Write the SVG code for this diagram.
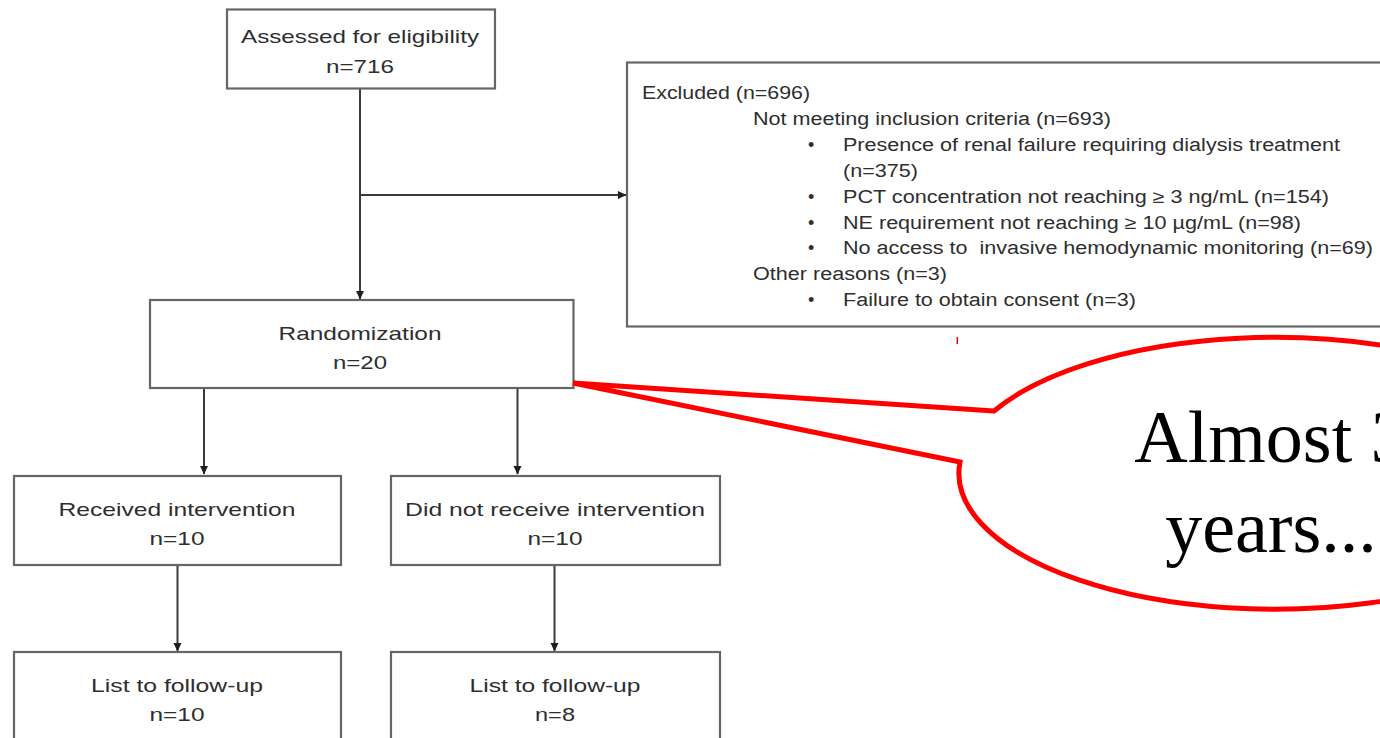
<svg xmlns="http://www.w3.org/2000/svg" width="1380" height="738" viewBox="0 0 1380 738">
<style>
.box{fill:#ffffff;stroke:#666666;stroke-width:2.2}
.t{font-family:"Liberation Sans",Arial,sans-serif;font-size:19px;fill:#2e2e2e}
.tc{text-anchor:middle}
.ex{font-family:"Liberation Sans",Arial,sans-serif;font-size:18px;fill:#2e2e2e}
.conn{stroke:#3a3a3a;stroke-width:2;fill:none}
.callout{fill:#ffffff;stroke:#ff0000;stroke-width:5;stroke-linejoin:miter}
.big{font-family:"Liberation Serif","Times New Roman",serif;font-size:74px;fill:#000000;text-anchor:middle}
</style>
<defs>
<marker id="arr" markerUnits="userSpaceOnUse" markerWidth="9" markerHeight="9" refX="8" refY="4.5" orient="auto">
<path d="M0,0.5 L8.5,4.5 L0,8.5 z" fill="#1e1e1e"/>
</marker>
</defs>
<rect x="0" y="0" width="1380" height="738" fill="#ffffff"/>

<g id="connectors">
<line class="conn" x1="360" y1="89" x2="360" y2="299" marker-end="url(#arr)"/>
<line class="conn" x1="360" y1="195" x2="626" y2="195" marker-end="url(#arr)"/>
<line class="conn" x1="204" y1="388" x2="204" y2="474" marker-end="url(#arr)"/>
<line class="conn" x1="517.5" y1="388" x2="517.5" y2="474" marker-end="url(#arr)"/>
<line class="conn" x1="177.5" y1="565" x2="177.5" y2="651" marker-end="url(#arr)"/>
<line class="conn" x1="554.5" y1="565" x2="554.5" y2="651" marker-end="url(#arr)"/>
</g>

<g id="assessed">
<rect class="box" x="227" y="9.5" width="268" height="79"/>
<text class="t tc" x="360" y="43" textLength="238" lengthAdjust="spacingAndGlyphs">Assessed for eligibility</text>
<text class="t tc" x="360" y="72.5" textLength="68" lengthAdjust="spacingAndGlyphs">n=716</text>
</g>

<g id="excluded">
<rect class="box" x="627" y="62.5" width="770" height="264"/>
<text class="ex" x="642" y="99" textLength="168" lengthAdjust="spacingAndGlyphs">Excluded (n=696)</text>
<text class="ex" x="753" y="125" textLength="358" lengthAdjust="spacingAndGlyphs">Not meeting inclusion criteria (n=693)</text>
<text class="ex" x="808" y="151">•</text>
<text class="ex" x="843" y="151" textLength="497" lengthAdjust="spacingAndGlyphs">Presence of renal failure requiring dialysis treatment</text>
<text class="ex" x="843" y="177" textLength="75" lengthAdjust="spacingAndGlyphs">(n=375)</text>
<text class="ex" x="808" y="202.5">•</text>
<text class="ex" x="843" y="202.5" textLength="486" lengthAdjust="spacingAndGlyphs">PCT concentration not reaching ≥ 3 ng/mL (n=154)</text>
<text class="ex" x="808" y="228.5">•</text>
<text class="ex" x="843" y="228.5" textLength="458" lengthAdjust="spacingAndGlyphs">NE requirement not reaching ≥ 10 µg/mL (n=98)</text>
<text class="ex" x="808" y="254">•</text>
<text class="ex" x="843" y="254" textLength="530" lengthAdjust="spacingAndGlyphs">No access to&#160; invasive hemodynamic monitoring (n=69)</text>
<text class="ex" x="753" y="280" textLength="194" lengthAdjust="spacingAndGlyphs">Other reasons (n=3)</text>
<text class="ex" x="808" y="306">•</text>
<text class="ex" x="843" y="306" textLength="293" lengthAdjust="spacingAndGlyphs">Failure to obtain consent (n=3)</text>
</g>

<g id="randomization">
<rect class="box" x="150" y="300" width="423.5" height="88"/>
<text class="t tc" x="360" y="340" textLength="163" lengthAdjust="spacingAndGlyphs">Randomization</text>
<text class="t tc" x="360" y="368.5" textLength="54" lengthAdjust="spacingAndGlyphs">n=20</text>
</g>

<g id="received">
<rect class="box" x="14" y="476" width="327" height="89"/>
<text class="t tc" x="177" y="515.5" textLength="237" lengthAdjust="spacingAndGlyphs">Received intervention</text>
<text class="t tc" x="177" y="545" textLength="55" lengthAdjust="spacingAndGlyphs">n=10</text>
</g>

<g id="notreceived">
<rect class="box" x="391" y="476" width="329" height="89"/>
<text class="t tc" x="555" y="515.5" textLength="300" lengthAdjust="spacingAndGlyphs">Did not receive intervention</text>
<text class="t tc" x="555" y="545" textLength="55" lengthAdjust="spacingAndGlyphs">n=10</text>
</g>

<g id="followup1">
<rect class="box" x="14" y="652" width="327" height="100"/>
<text class="t tc" x="177" y="691.5" textLength="172" lengthAdjust="spacingAndGlyphs">List to follow-up</text>
<text class="t tc" x="177" y="720.5" textLength="55" lengthAdjust="spacingAndGlyphs">n=10</text>
</g>

<g id="followup2">
<rect class="box" x="391" y="652" width="329" height="100"/>
<text class="t tc" x="555" y="691.5" textLength="171" lengthAdjust="spacingAndGlyphs">List to follow-up</text>
<text class="t tc" x="555" y="720.5" textLength="40" lengthAdjust="spacingAndGlyphs">n=8</text>
</g>

<line x1="957.3" y1="337" x2="957.3" y2="344" stroke="#ff0000" stroke-width="1.5"/>

<g id="callout">
<path class="callout" d="M994,411 L573,383 L960,462 A316,136 0 1 0 994,411 Z"/>
<text class="big" x="1271" y="462">Almost 3</text>
<text class="big" x="1271" y="552">years...</text>
</g>
</svg>
